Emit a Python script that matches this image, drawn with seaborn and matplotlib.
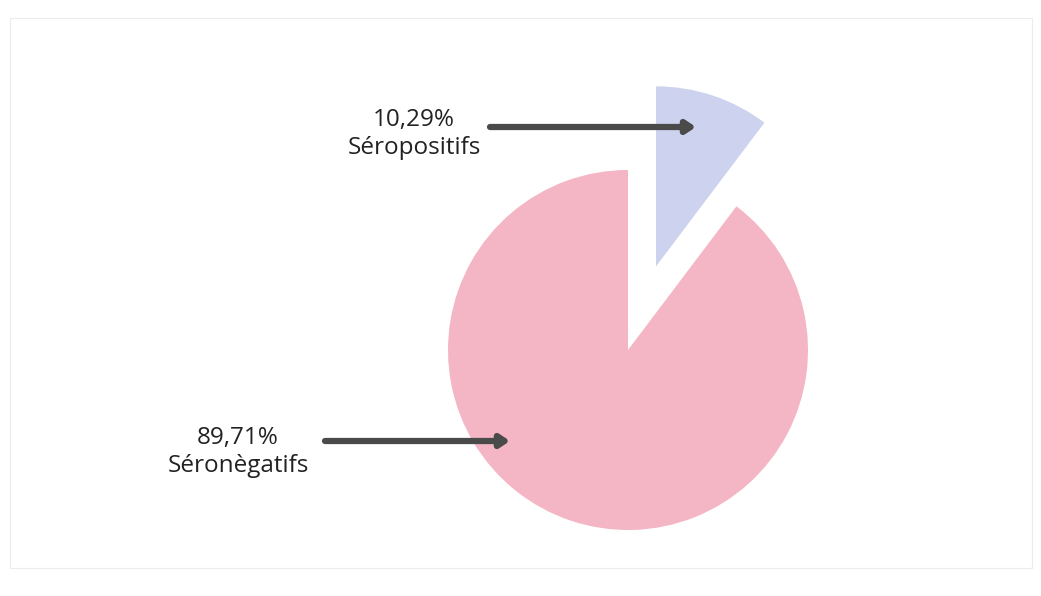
import matplotlib
matplotlib.use("Agg")
import matplotlib.pyplot as plt
import seaborn as sns

# Serology results
categories = ["Séropositifs", "Séronègatifs"]
percent_labels = ["10,29%", "89,71%"]
values = [10.29, 89.71]

sns.set_theme(style="white")
plt.rcParams["font.family"] = ["Open Sans", "DejaVu Sans"]

W, H = 1041, 596
fig = plt.figure(figsize=(W / 100, H / 100), dpi=100)
ax = fig.add_axes([0, 0, 1, 1])

colors = ["#CDD2EE", "#F4B5C4"]
radius = 180
cx, cy = 628, H - 350

ax.pie(values, colors=colors, startangle=90, counterclock=False,
       radius=radius, center=(cx, cy), explode=[0.49 * radius, 0],
       wedgeprops=dict(linewidth=0))

# pixel-sized data space over the whole canvas
ax.set_xlim(0, W)
ax.set_ylim(0, H)
ax.set_aspect("equal")
ax.axis("off")

# faint frame around the chart area
frame = plt.Rectangle((10, H - 568), 1022, 550, fill=False,
                      edgecolor="#ECECEC", linewidth=0.8)
ax.add_patch(frame)

label_pos = [(414, H - 134), (238, H - 452)]
arrows = [((490, H - 127), (696, H - 127)), ((325, H - 441), (510, H - 441))]

for cat, pct, (lx, ly), (start, end) in zip(categories, percent_labels, label_pos, arrows):
    ax.text(lx, ly, f"{pct}\n{cat}", ha="center", va="center",
            fontsize=17.5, color="#222222", linespacing=1.25)
    ax.annotate("", xy=end, xytext=start,
                arrowprops=dict(arrowstyle="-|>,head_length=0.45,head_width=0.3",
                                color="#4a4a4a", lw=4.5, shrinkA=0, shrinkB=0))

fig.savefig("out.png", dpi=100, facecolor="white")
